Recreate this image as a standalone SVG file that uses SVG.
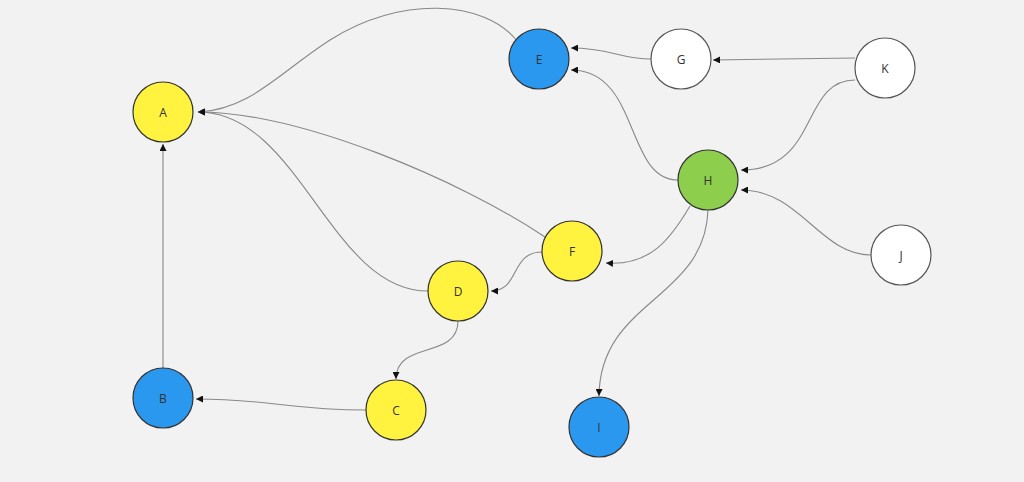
<svg xmlns="http://www.w3.org/2000/svg" width="1024" height="482" viewBox="0 0 1024 482">
<defs>
<marker id="ah" viewBox="0 0 10 10" refX="10" refY="5" markerWidth="7" markerHeight="7" markerUnits="userSpaceOnUse" orient="auto">
<path d="M0,0 L10,5 L0,10 Z" fill="#111"/>
</marker>
<style>
.n{stroke:#333;stroke-width:1.2}
.y{fill:#FFF33F}
.b{fill:#2A98EE}
.g{fill:#8DCE4C}
.w{fill:#FFFFFF;stroke:#555}
text{font-family:"Open Sans","Noto Sans",sans-serif;font-size:12px;fill:#333;text-anchor:middle;dominant-baseline:central}
.e{fill:none;stroke:#888;stroke-width:1.1;marker-end:url(#ah)}
</style>
</defs>
<rect width="1024" height="482" fill="#F2F2F2"/>
<g id="connectors">
<path class="e" d="M517,41 C485,0 400,-5 330,40 C280,72 250,110 198,112"/>
<path class="e" d="M651,59 C620,59 610,48 571,48"/>
<path class="e" d="M855,58 L713,60"/>
<path class="e" d="M678,180 C625,180 640,70 571,70"/>
<path class="e" d="M855,80 C800,80 820,170 741,170"/>
<path class="e" d="M871,255 C820,255 800,190 741,190"/>
<path class="e" d="M690,206 C670,240 650,266 606,263"/>
<path class="e" d="M708,210 C705,300 600,300 599,396"/>
<path class="e" d="M545,237 C460,180 300,112 198,112"/>
<path class="e" d="M542,252 C510,252 520,291 491,291"/>
<path class="e" d="M428,291 C330,291 300,112 198,112"/>
<path class="e" d="M458,321 C458,360 396,340 396,379"/>
<path class="e" d="M366,410 C290,410 270,399 196,399"/>
<path class="e" d="M163,368 L163,144"/>
</g>
<g id="A"><circle class="n y" cx="163" cy="112" r="30"/><text x="163" y="112">A</text></g>
<g id="B"><circle class="n b" cx="163" cy="398" r="30"/><text x="163" y="398">B</text></g>
<g id="C"><circle class="n y" cx="396" cy="410" r="30"/><text x="396" y="410">C</text></g>
<g id="D"><circle class="n y" cx="458" cy="291" r="30"/><text x="458" y="291">D</text></g>
<g id="E"><circle class="n b" cx="539" cy="59" r="30"/><text x="539" y="59">E</text></g>
<g id="F"><circle class="n y" cx="572" cy="251" r="30"/><text x="572" y="251">F</text></g>
<g id="G"><circle class="n w" cx="681" cy="59" r="30"/><text x="681" y="59">G</text></g>
<g id="H"><circle class="n g" cx="708" cy="180" r="30"/><text x="708" y="180">H</text></g>
<g id="I"><circle class="n b" cx="599" cy="427" r="30"/><text x="599" y="427">I</text></g>
<g id="J"><circle class="n w" cx="901" cy="255" r="30"/><text x="901" y="255">J</text></g>
<g id="K"><circle class="n w" cx="885" cy="68" r="30"/><text x="885" y="68">K</text></g>
</svg>
